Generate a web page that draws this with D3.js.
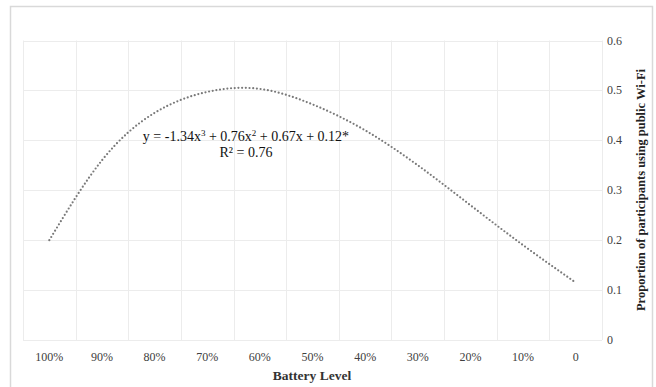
<!DOCTYPE html>
<html>
<head>
<meta charset="utf-8">
<script src="https://cdn.jsdelivr.net/npm/d3@7"></script>
<style>
  body { margin: 0; background: #fff; }
</style>
</head>
<body>
<script>
// battery levels, left to right
const levels = ['100%', '90%', '80%', '70%', '60%', '50%', '40%', '30%', '20%', '10%', '0']
// proportion at each level
const proportion = [0.20, 0.36, 0.455, 0.497, 0.503, 0.472, 0.42, 0.35, 0.27, 0.19, 0.115]
const yTicks = [0, 0.1, 0.2, 0.3, 0.4, 0.5, 0.6]

const W = 656, H = 387
const margin = { top: 40.5, right: 54, bottom: 47, left: 23 }
const serif = "'Liberation Serif', 'DejaVu Serif', serif"

const svg = d3.select('body').append('svg')
    .attr('width', W)
    .attr('height', H)
    .attr('font-family', serif)

// outer frame
svg.append('rect')
    .attr('x', 10.5).attr('y', 6.5)
    .attr('width', 642).attr('height', 400)
    .attr('fill', 'none')
    .attr('stroke', '#d9d9d9')
    .attr('stroke-width', 1.5)

var x = d3.scaleBand()
    .domain(levels)
    .range([margin.left, W - margin.right])

var y = d3.scaleLinear()
    .domain([0, 0.6])
    .range([H - margin.bottom, margin.top])

// horizontal grid
svg.append('g')
    .selectAll('line')
    .data(yTicks)
    .enter()
    .append('line')
    .attr('x1', margin.left)
    .attr('x2', W - margin.right)
    .attr('y1', d => Math.round(y(d)) + 0.5)
    .attr('y2', d => Math.round(y(d)) + 0.5)
    .attr('stroke', '#ececec')

// vertical grid at band edges
const edges = levels.map(d => x(d)).concat([x(levels[levels.length - 1]) + x.bandwidth()])
svg.append('g')
    .selectAll('line')
    .data(edges)
    .enter()
    .append('line')
    .attr('x1', d => Math.round(d) + 0.5)
    .attr('x2', d => Math.round(d) + 0.5)
    .attr('y1', y(0.6))
    .attr('y2', y(0))
    .attr('stroke', '#ececec')

// y tick labels on the right
svg.append('g')
    .selectAll('text')
    .data(yTicks)
    .enter()
    .append('text')
    .attr('x', 607)
    .attr('y', d => y(d) + 4)
    .attr('font-size', 12)
    .attr('fill', '#404040')
    .text(d => d === 0 ? '0' : d.toFixed(1))

// x tick labels
svg.append('g')
    .selectAll('text')
    .data(levels)
    .enter()
    .append('text')
    .attr('x', d => x(d) + x.bandwidth() / 2)
    .attr('y', 361)
    .attr('text-anchor', 'middle')
    .attr('font-size', 12)
    .attr('fill', '#404040')
    .text(d => d)

// axis titles
svg.append('text')
    .attr('x', 312)
    .attr('y', 380)
    .attr('text-anchor', 'middle')
    .attr('font-size', 13.5)
    .attr('font-weight', 'bold')
    .attr('fill', '#333')
    .text('Battery Level')

svg.append('text')
    .attr('transform', 'translate(645,190) rotate(-90)')
    .attr('text-anchor', 'middle')
    .attr('font-size', 12.5)
    .attr('font-weight', 'bold')
    .attr('fill', '#222')
    .text('Proportion of participants using public Wi-Fi')

// dotted trend line
const pts = levels.map((d, i) => [x(d) + x.bandwidth() / 2, y(proportion[i])])
var line = d3.line().curve(d3.curveNatural)
svg.append('path')
    .attr('d', line(pts))
    .attr('fill', 'none')
    .attr('stroke', '#7a7a7a')
    .attr('stroke-width', 2.2)
    .attr('stroke-linecap', 'round')
    .attr('stroke-dasharray', '0,3.7')

// equation label
var eq = svg.append('text')
    .attr('x', 246)
    .attr('y', 141)
    .attr('text-anchor', 'middle')
    .attr('font-size', 14)
    .attr('fill', '#111')
eq.append('tspan').text('y = -1.34x')
eq.append('tspan').attr('dy', -5).attr('font-size', 9).text('3')
eq.append('tspan').attr('dy', 5).text(' + 0.76x')
eq.append('tspan').attr('dy', -5).attr('font-size', 9).text('2')
eq.append('tspan').attr('dy', 5).text(' + 0.67x + 0.12*')

svg.append('text')
    .attr('x', 246)
    .attr('y', 157)
    .attr('text-anchor', 'middle')
    .attr('font-size', 14)
    .attr('fill', '#111')
    .text('R² = 0.76')
</script>
</body>
</html>
